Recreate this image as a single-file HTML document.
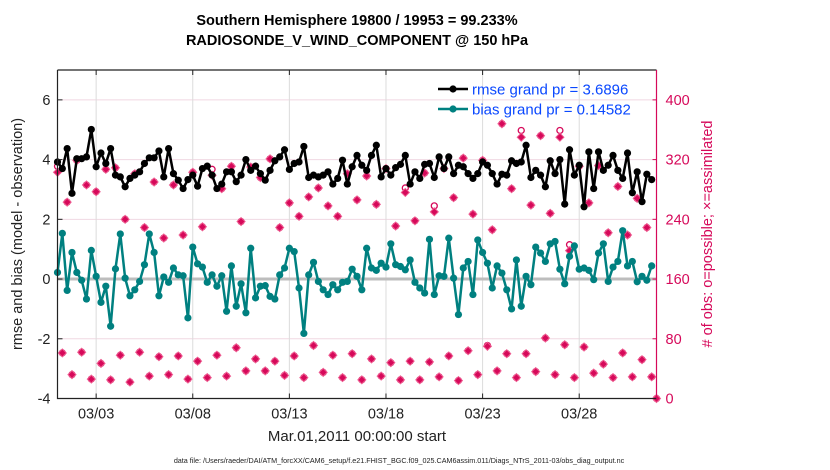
<!DOCTYPE html>
<html><head><meta charset="utf-8"><style>
body{margin:0;background:#fff;}
svg{display:block;font-family:"Liberation Sans",sans-serif;}
</style></head><body>
<svg id="chart" width="830" height="470" viewBox="0 0 830 470" xmlns="http://www.w3.org/2000/svg">
<rect width="830" height="470" fill="#fff"/>
<text x="357" y="25" text-anchor="middle" font-size="14.5" font-weight="bold">Southern Hemisphere 19800 / 19953 = 99.233%</text>
<text x="357" y="45" text-anchor="middle" font-size="14.5" font-weight="bold">RADIOSONDE_V_WIND_COMPONENT @ 150 hPa</text>
<g id="grid"></g>
<g id="marks"></g>
<g id="axes"></g>
<text transform="translate(22,234) rotate(-90)" text-anchor="middle" font-size="14.5" fill="#222">rmse and bias (model - observation)</text>
<text transform="translate(712,234) rotate(-90)" text-anchor="middle" font-size="14.5" fill="#d6095a"># of obs: o=possible; ×=assimilated</text>
<text x="357" y="441" text-anchor="middle" font-size="15" fill="#222">Mar.01,2011 00:00:00 start</text>
<text x="399" y="463" text-anchor="middle" font-size="7.2" fill="#222">data file: /Users/raeder/DAI/ATM_forcXX/CAM6_setup/f.e21.FHIST_BGC.f09_025.CAM6assim.011/Diags_NTrS_2011-03/obs_diag_output.nc</text>
<g>
<line x1="438" y1="89" x2="468" y2="89" stroke="#000" stroke-width="2.5"/>
<circle cx="453" cy="89" r="3.6" fill="#000"/>
<text x="472" y="94.5" font-size="15" fill="#0a48ff">rmse grand pr = 3.6896</text>
<line x1="438" y1="109" x2="468" y2="109" stroke="#008080" stroke-width="2.5"/>
<circle cx="453" cy="109" r="3.6" fill="#008080"/>
<text x="472" y="114.5" font-size="15" fill="#0a48ff">bias grand pr = 0.14582</text>
</g>
</svg>
<script>
const rmse=[3.92,3.7,4.37,2.87,4.03,4.03,4.09,5.01,3.76,4.22,3.87,4.37,3.48,3.42,3.09,3.37,3.48,3.59,3.87,4.06,4.06,4.29,3.42,4.37,3.53,3.31,3.03,3.33,3.48,3.11,
3.70,3.78,3.48,3.03,3.18,3.59,3.59,3.26,3.48,4.0,3.64,3.78,3.53,3.31,3.64,3.96,4.09,4.33,3.67,3.87,3.92,4.44,3.4,3.48,3.42,3.48,3.59,3.18,3.37,3.98,
3.18,3.76,4.14,3.81,3.64,4.14,4.48,3.42,3.70,3.48,3.73,3.84,4.14,3.18,3.59,3.37,3.84,3.87,3.4,4.09,3.7,4.09,3.53,3.81,3.76,3.53,3.37,3.53,3.92,3.81,
3.53,3.18,3.51,3.48,3.96,3.87,3.92,4.48,3.4,3.64,3.48,3.09,3.96,3.53,4.0,2.51,4.33,3.48,3.81,2.42,4.26,3.03,4.26,3.64,3.81,4.14,3.64,3.37,4.22,2.89,3.59,2.59,3.51,3.33];
const bias=[0.22,1.53,-0.38,0.89,0.22,-0.04,-0.67,0.96,0.09,-0.78,-0.24,-1.58,0.34,1.51,0.03,-0.56,-0.36,-0.08,0.48,1.51,0.89,-0.56,0.07,-0.11,0.37,0.14,0.11,-1.30,1.07,0.51,
0.40,-0.11,0.14,-0.24,0.11,-1.08,0.44,-0.91,-0.16,-1.13,1.03,-0.63,-0.24,-0.22,-0.58,-0.67,0.14,0.37,1.03,0.92,-0.30,-1.82,0.14,0.56,-0.08,-0.36,-0.52,-0.19,-0.36,-0.11,
-0.08,0.33,0.09,-0.36,1.03,0.37,0.29,0.53,0.40,1.18,0.48,0.42,0.31,0.64,-0.11,-0.30,-0.47,1.33,-0.52,0.11,0.09,1.37,0.03,-1.19,0.37,0.59,-0.52,1.31,0.89,0.53,
-0.30,0.44,0.20,-0.36,-1.0,0.64,-0.91,0.09,-0.19,1.07,0.87,0.59,1.18,1.26,0.33,-0.16,0.76,1.11,0.33,0.37,0.29,-0.02,0.87,1.18,-0.08,0.40,0.59,1.62,0.44,0.59,-0.09,0.09,-0.04,0.44];
const nAssim=[303,61,263,32,319,62,286,26,277,47,307,25,309,58,240,22,301,62,229,30,290,56,215,32,286,57,219,26,303,50,
230,28,299,58,281,30,311,68,237,37,310,53,296,37,321,50,229,31,262,57,244,28,270,71,282,35,258,58,244,28,
301,60,266,25,298,53,260,30,308,48,231,25,276,50,238,25,302,49,250,29,308,57,269,24,322,64,247,32,319,70,
226,37,368,60,281,28,350,60,259,36,352,81,248,32,350,72,198,28,311,69,262,34,312,46,222,28,284,61,219,29,268,52,229,29,0];
const nPoss=[311,61,263,32,319,62,286,26,277,47,307,25,309,58,240,22,301,62,229,30,290,56,215,32,286,57,219,26,303,50,
230,28,307,58,281,30,311,68,237,37,310,53,296,37,321,50,229,31,262,57,244,28,270,71,282,35,258,58,244,28,
301,60,266,25,298,53,260,30,308,48,231,25,282,50,238,25,302,49,258,29,308,57,269,24,322,64,247,32,319,71,
226,37,368,60,281,28,359,60,259,36,352,81,248,32,359,72,206,28,311,69,262,34,312,46,222,28,284,61,219,29,268,52,229,29,0];
const dateLabels=["03/03","03/08","03/13","03/18","03/23","03/28"];
const dateDays=[2,7,12,17,22,27];
const leftTicks=[-4,-2,0,2,4,6];
const rightTicks=[0,80,160,240,320,400];

const X0=57.5,X1=656.5,Y0=70,Y1=398.5,DAYS=31;
const xScale=d=>X0+(d/DAYS)*(X1-X0);
const yL=v=>Y1-(v-(-4))/11*(Y1-Y0);
const yR=v=>Y1-v/440*(Y1-Y0);
const NS="http://www.w3.org/2000/svg";
function mk(tag,parent,attrs){const e=document.createElementNS(NS,tag);for(const k in attrs)e.setAttribute(k,attrs[k]);parent.appendChild(e);return e;}
const grid=document.getElementById('grid'),marks=document.getElementById('marks'),axes=document.getElementById('axes');
const PINK="#d6095a";
leftTicks.forEach(v=>{
  const l=mk('line',grid,{x1:X0,x2:X1,y1:yL(v),y2:yL(v),stroke:'#f0d8e2','stroke-width':1});
  
  
  const t=mk('text',axes,{x:X0-7,y:yL(v)+5,'text-anchor':'end','font-size':14.5,fill:'#222'});
  t.textContent=v;
  
  
});
rightTicks.forEach(v=>{
  const t=mk('text',axes,{x:X1+9,y:yR(v)+5,'font-size':14.5,fill:PINK});
  t.textContent=v;
  
  
  mk('line',axes,{x1:X1-4,x2:X1,y1:yR(v),y2:yR(v),stroke:PINK,'stroke-width':1});
});
dateDays.forEach((d,i)=>{
  const x=xScale(d);
  const l=mk('line',grid,{x1:x,x2:x,y1:Y0,y2:Y1,stroke:'#dcdcdc','stroke-width':1});
  
  
  mk('line',axes,{x1:x,x2:x,y1:Y1,y2:Y1-5,stroke:'#222','stroke-width':1});
  mk('line',axes,{x1:x,x2:x,y1:Y0,y2:Y0+5,stroke:'#222','stroke-width':1});
  const t=mk('text',axes,{x:x,y:Y1+20,'text-anchor':'middle','font-size':14.5,fill:'#222'});
  t.textContent=dateLabels[i];
  
  
});
const zl=mk('line',grid,{x1:X0,x2:X1,y1:yL(0),y2:yL(0),stroke:'#bdbdbd','stroke-width':3});


nPoss.forEach((v,i)=>{
  const x=xScale(i*0.25),y=yR(v);
  const c=mk('circle',marks,{cx:x,cy:y,r:3,fill:'none',stroke:PINK,'stroke-width':1.3});
  
  
});
nAssim.forEach((v,i)=>{
  const x=xScale(i*0.25),y=yR(v);
  const p=mk('path',marks,{d:`M${x} ${y-4}L${x+4} ${y}L${x} ${y+4}L${x-4} ${y}Z`,fill:PINK,stroke:'#ee5c90','stroke-width':1});
  
  
});
function series(vals,color,name){
  const pts=vals.map((v,i)=>xScale(i*0.25)+','+yL(v)).join(' ');
  const pl=mk('polyline',marks,{points:pts,fill:'none',stroke:color,'stroke-width':2.5,'stroke-linejoin':'round'});
  
  
  vals.forEach((v,i)=>{
    const c=mk('circle',marks,{cx:xScale(i*0.25),cy:yL(v),r:3.6,fill:color});
    
    
  });
}
series(bias,'#008080','bias');
series(rmse,'#000','rmse');
const f1=mk('path',axes,{d:`M${X0} ${Y0}V${Y1}H${X1}M${X0} ${Y0}H${X1}`,fill:'none',stroke:'#222','stroke-width':1.2});


const ra=mk('line',axes,{x1:X1,x2:X1,y1:Y0,y2:Y1,stroke:PINK,'stroke-width':1.2});


leftTicks.forEach(v=>mk('line',axes,{x1:X0,x2:X0+5,y1:yL(v),y2:yL(v),stroke:'#222','stroke-width':1}));
</script>
</body></html>
